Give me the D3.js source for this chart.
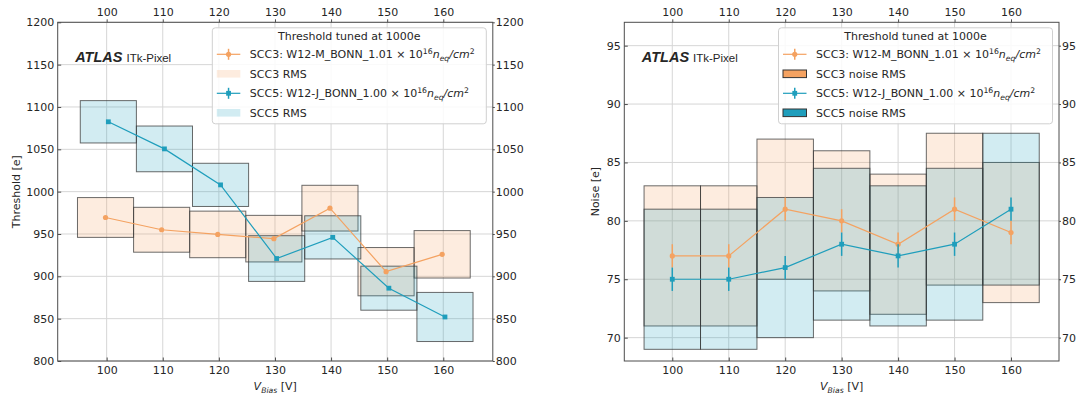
<!DOCTYPE html>
<html>
<head>
<meta charset="utf-8">
<script src="https://cdn.jsdelivr.net/npm/d3@7"></script>
<style>
  body { margin: 0; background: #fff; }
  svg text { font-family: "DejaVu Sans", sans-serif; fill: #262626; }
</style>
</head>
<body>
<div id="chart"></div>
<script>
// bias voltage bins
var vBias = [100, 110, 120, 130, 140, 150, 160];
var binHalf = 5;

// threshold panel (mean and RMS per bin)
var thrScc3 = [969.5, 955, 949.5, 944.5, 980.5, 905.5, 926];
var thrScc3Rms = [23.5, 26.5, 27.5, 27.5, 27, 28.5, 28];
var thrScc5 = [1082.5, 1050.5, 1008, 921, 946, 886, 852];
var thrScc5Rms = [25, 27, 25.5, 27, 25.5, 26, 29];
var thrTicks = [800, 850, 900, 950, 1000, 1050, 1100, 1150, 1200];

// noise panel
var noiseScc3 = [77, 77, 81, 80, 78, 81, 79];
var noiseScc3Rms = [6, 6, 6, 6, 6, 6.5, 6];
var noiseScc3Err = [1, 1, 1, 1, 1, 1, 1];
var noiseScc5 = [75, 75, 76, 78, 77, 78, 81];
var noiseScc5Rms = [6, 6, 6, 6.5, 6, 6.5, 6.5];
var noiseScc5Err = [1, 1, 1, 1, 1, 1, 1];
var noiseTicks = [70, 75, 80, 85, 90, 95];

var legendTitle = "Threshold tuned at 1000e";
var scc3Label = [{ t: "SCC3: W12-M_BONN_1.01 × 10" }, { t: "16", sup: true }, { t: "n", it: true }, { t: "eq", sub: true, it: true }, { t: "/cm", it: true }, { t: "2", sup: true }];
var scc5Label = [{ t: "SCC5: W12-J_BONN_1.00 × 10" }, { t: "16", sup: true }, { t: "n", it: true }, { t: "eq", sub: true, it: true }, { t: "/cm", it: true }, { t: "2", sup: true }];
var xLabel = [{ t: "V", it: true }, { t: "Bias", sub: true, it: true }, { t: " [V]" }];

var svgW = 1078, svgH = 398;
var c3 = "#f4a261", c5 = "#1f9ebc";
var fs = 11;

var svg = d3.select("#chart").append("svg").attr("width", svgW).attr("height", svgH);

function richText(sel, segs, size) {
  var shift = 0;
  segs.forEach(function (s) {
    var target = s.sup ? -0.4 * size : (s.sub ? 0.25 * size : 0);
    var ts = sel.append("tspan").attr("dy", target - shift).text(s.t);
    if (s.sup || s.sub) ts.style("font-size", (size * 0.7) + "px");
    if (s.it) ts.style("font-style", "italic");
    shift = target;
  });
}

function drawPanel(p) {
  var g = svg.append("g");

  // x extent from the boxes, 5% margins
  var all = [];
  p.series.forEach(function (s) {
    vBias.forEach(function (v) { all.push(v + s.dx - binHalf, v + s.dx + binHalf); });
  });
  var lo = d3.min(all), hi = d3.max(all), pad = (hi - lo) * 0.05;
  var x = d3.scaleLinear().domain([lo - pad, hi + pad]).range([p.left, p.right]);
  var y = d3.scaleLinear().domain(p.yDomain).range([p.bottom, p.top]);

  // grid
  g.append("g").selectAll("line").data(vBias).enter().append("line")
    .attr("x1", function (d) { return x(d); }).attr("x2", function (d) { return x(d); })
    .attr("y1", p.top).attr("y2", p.bottom)
    .attr("stroke", "#d6d6d6").attr("stroke-width", 1);
  g.append("g").selectAll("line").data(p.yTicks).enter().append("line")
    .attr("y1", function (d) { return y(d); }).attr("y2", function (d) { return y(d); })
    .attr("x1", p.left).attr("x2", p.right)
    .attr("stroke", "#d6d6d6").attr("stroke-width", 1);

  // RMS boxes
  p.series.forEach(function (s) {
    g.append("g").selectAll("rect").data(vBias).enter().append("rect")
      .attr("x", function (d) { return x(d + s.dx - binHalf); })
      .attr("width", function (d) { return x(d + binHalf) - x(d - binHalf); })
      .attr("y", function (d, i) { return y(s.vals[i] + s.rms[i]); })
      .attr("height", function (d, i) { return y(s.vals[i] - s.rms[i]) - y(s.vals[i] + s.rms[i]); })
      .attr("fill", s.color).attr("fill-opacity", 0.2)
      .attr("stroke", "#3a3a3a").attr("stroke-opacity", 0.75).attr("stroke-width", 1);
  });

  // lines, error bars, markers
  p.series.forEach(function (s) {
    var line = d3.line()
      .x(function (d) { return x(d + s.dx); })
      .y(function (d, i) { return y(s.vals[i]); });
    g.append("path").datum(vBias).attr("d", line)
      .attr("fill", "none").attr("stroke", s.color).attr("stroke-width", 1.2);
    if (s.err) {
      g.append("g").selectAll("line").data(vBias).enter().append("line")
        .attr("x1", function (d) { return x(d + s.dx); }).attr("x2", function (d) { return x(d + s.dx); })
        .attr("y1", function (d, i) { return y(s.vals[i] - s.err[i]); })
        .attr("y2", function (d, i) { return y(s.vals[i] + s.err[i]); })
        .attr("stroke", s.color).attr("stroke-width", 1.5);
    }
    if (s.marker === "circle") {
      g.append("g").selectAll("circle").data(vBias).enter().append("circle")
        .attr("cx", function (d) { return x(d + s.dx); })
        .attr("cy", function (d, i) { return y(s.vals[i]); })
        .attr("r", 2.6).attr("fill", s.color);
    } else {
      g.append("g").selectAll("rect").data(vBias).enter().append("rect")
        .attr("x", function (d) { return x(d + s.dx) - 2.4; })
        .attr("y", function (d, i) { return y(s.vals[i]) - 2.4; })
        .attr("width", 4.8).attr("height", 4.8).attr("fill", s.color);
    }
  });

  // axes
  var fmt = d3.format("d");
  var axB = g.append("g").attr("transform", "translate(0," + p.bottom + ")")
    .call(d3.axisBottom(x).tickValues(vBias).tickFormat(fmt).tickSizeInner(-3.5).tickSizeOuter(0).tickPadding(5));
  var axT = g.append("g").attr("transform", "translate(0," + p.top + ")")
    .call(d3.axisTop(x).tickValues(vBias).tickFormat(fmt).tickSizeInner(3).tickSizeOuter(0).tickPadding(3));
  var axL = g.append("g").attr("transform", "translate(" + p.left + ",0)")
    .call(d3.axisLeft(y).tickValues(p.yTicks).tickFormat(fmt).tickSizeInner(-3.5).tickSizeOuter(0).tickPadding(3.5));
  var axR = g.append("g").attr("transform", "translate(" + p.right + ",0)")
    .call(d3.axisRight(y).tickValues(p.yTicks).tickFormat(fmt).tickSizeInner(2).tickSizeOuter(0).tickPadding(1));
  [axB, axT, axL, axR].forEach(function (a) {
    a.select(".domain").remove();
    a.selectAll(".tick line").attr("stroke", "#4d4d4d");
    a.selectAll("text").style("font-size", fs + "px").attr("fill", "#262626");
  });

  // frame
  g.append("rect").attr("x", p.left).attr("y", p.top)
    .attr("width", p.right - p.left).attr("height", p.bottom - p.top)
    .attr("fill", "none").attr("stroke", "#4d4d4d").attr("stroke-width", 1);

  // axis labels
  var xl = g.append("text").attr("x", (p.left + p.right) / 2).attr("y", 390)
    .attr("text-anchor", "middle").style("font-size", fs + "px");
  richText(xl, xLabel, fs);
  g.append("text").attr("transform", "translate(" + p.yLabelX + "," + (p.top + p.bottom) / 2 + ") rotate(-90)")
    .attr("text-anchor", "middle").style("font-size", fs + "px").text(p.yLabel);

  // ATLAS label
  var at = g.append("text").attr("x", p.left + 17.5).attr("y", 62);
  at.append("tspan").style("font-family", "'Liberation Sans', Arial, sans-serif")
    .style("font-weight", "bold").style("font-style", "italic").style("font-size", "14.5px").text("ATLAS");
  at.append("tspan").attr("dx", 4).style("font-family", "'Liberation Sans', Arial, sans-serif")
    .style("font-size", "11.5px").text("ITk-Pixel");

  // legend
  var lw = 274, lh = 96;
  var lx = p.right - 6.5 - lw, ly = p.top + 5.5;
  var lg = g.append("g");
  lg.append("rect").attr("x", lx).attr("y", ly).attr("width", lw).attr("height", lh)
    .attr("rx", 3).attr("fill", "#fff").attr("fill-opacity", 0.85)
    .attr("stroke", "#d0d0d0").attr("stroke-width", 1);
  lg.append("text").attr("x", lx + lw / 2).attr("y", ly + 12)
    .attr("text-anchor", "middle").style("font-size", fs + "px").text(legendTitle);
  p.legend.forEach(function (e, i) {
    var cy = ly + 26.5 + i * 19.5;
    var hx0 = lx + 4.5, hx1 = lx + 28;
    if (e.kind === "line") {
      lg.append("line").attr("x1", hx0).attr("x2", hx1).attr("y1", cy).attr("y2", cy)
        .attr("stroke", e.color).attr("stroke-width", 1.2);
      lg.append("line").attr("x1", (hx0 + hx1) / 2).attr("x2", (hx0 + hx1) / 2)
        .attr("y1", cy - 5.5).attr("y2", cy + 5.5).attr("stroke", e.color).attr("stroke-width", 1.5);
      if (e.marker === "circle") {
        lg.append("circle").attr("cx", (hx0 + hx1) / 2).attr("cy", cy).attr("r", 2.6).attr("fill", e.color);
      } else {
        lg.append("rect").attr("x", (hx0 + hx1) / 2 - 2.4).attr("y", cy - 2.4)
          .attr("width", 4.8).attr("height", 4.8).attr("fill", e.color);
      }
    } else {
      var sw = lg.append("rect").attr("x", hx0).attr("y", cy - 3.8).attr("width", hx1 - hx0).attr("height", 7.6)
        .attr("fill", e.color);
      if (e.solid) sw.attr("stroke", "#333").attr("stroke-width", 1);
      else sw.attr("fill-opacity", 0.2);
    }
    var t = lg.append("text").attr("x", lx + 37.5).attr("y", cy + 4).style("font-size", fs + "px");
    if (typeof e.label === "string") t.text(e.label);
    else richText(t, e.label, fs);
  });
}

drawPanel({
  left: 57.7, right: 492.8, top: 22.3, bottom: 361,
  yDomain: [800, 1200], yTicks: thrTicks, yLabel: "Threshold [e]", yLabelX: 19.5,
  series: [
    { vals: thrScc3, rms: thrScc3Rms, err: null, color: c3, marker: "circle", dx: -0.2 },
    { vals: thrScc5, rms: thrScc5Rms, err: null, color: c5, marker: "square", dx: 0.3 }
  ],
  legend: [
    { kind: "line", color: c3, marker: "circle", label: scc3Label },
    { kind: "patch", color: c3, solid: false, label: "SCC3 RMS" },
    { kind: "line", color: c5, marker: "square", label: scc5Label },
    { kind: "patch", color: c5, solid: false, label: "SCC5 RMS" }
  ]
});

drawPanel({
  left: 624.3, right: 1059, top: 22.3, bottom: 361,
  yDomain: [68, 97], yTicks: noiseTicks, yLabel: "Noise [e]", yLabelX: 599,
  series: [
    { vals: noiseScc3, rms: noiseScc3Rms, err: noiseScc3Err, color: c3, marker: "circle", dx: 0 },
    { vals: noiseScc5, rms: noiseScc5Rms, err: noiseScc5Err, color: c5, marker: "square", dx: 0 }
  ],
  legend: [
    { kind: "line", color: c3, marker: "circle", label: scc3Label },
    { kind: "patch", color: c3, solid: true, label: "SCC3 noise RMS" },
    { kind: "line", color: c5, marker: "square", label: scc5Label },
    { kind: "patch", color: c5, solid: true, label: "SCC5 noise RMS" }
  ]
});
</script>
</body>
</html>
